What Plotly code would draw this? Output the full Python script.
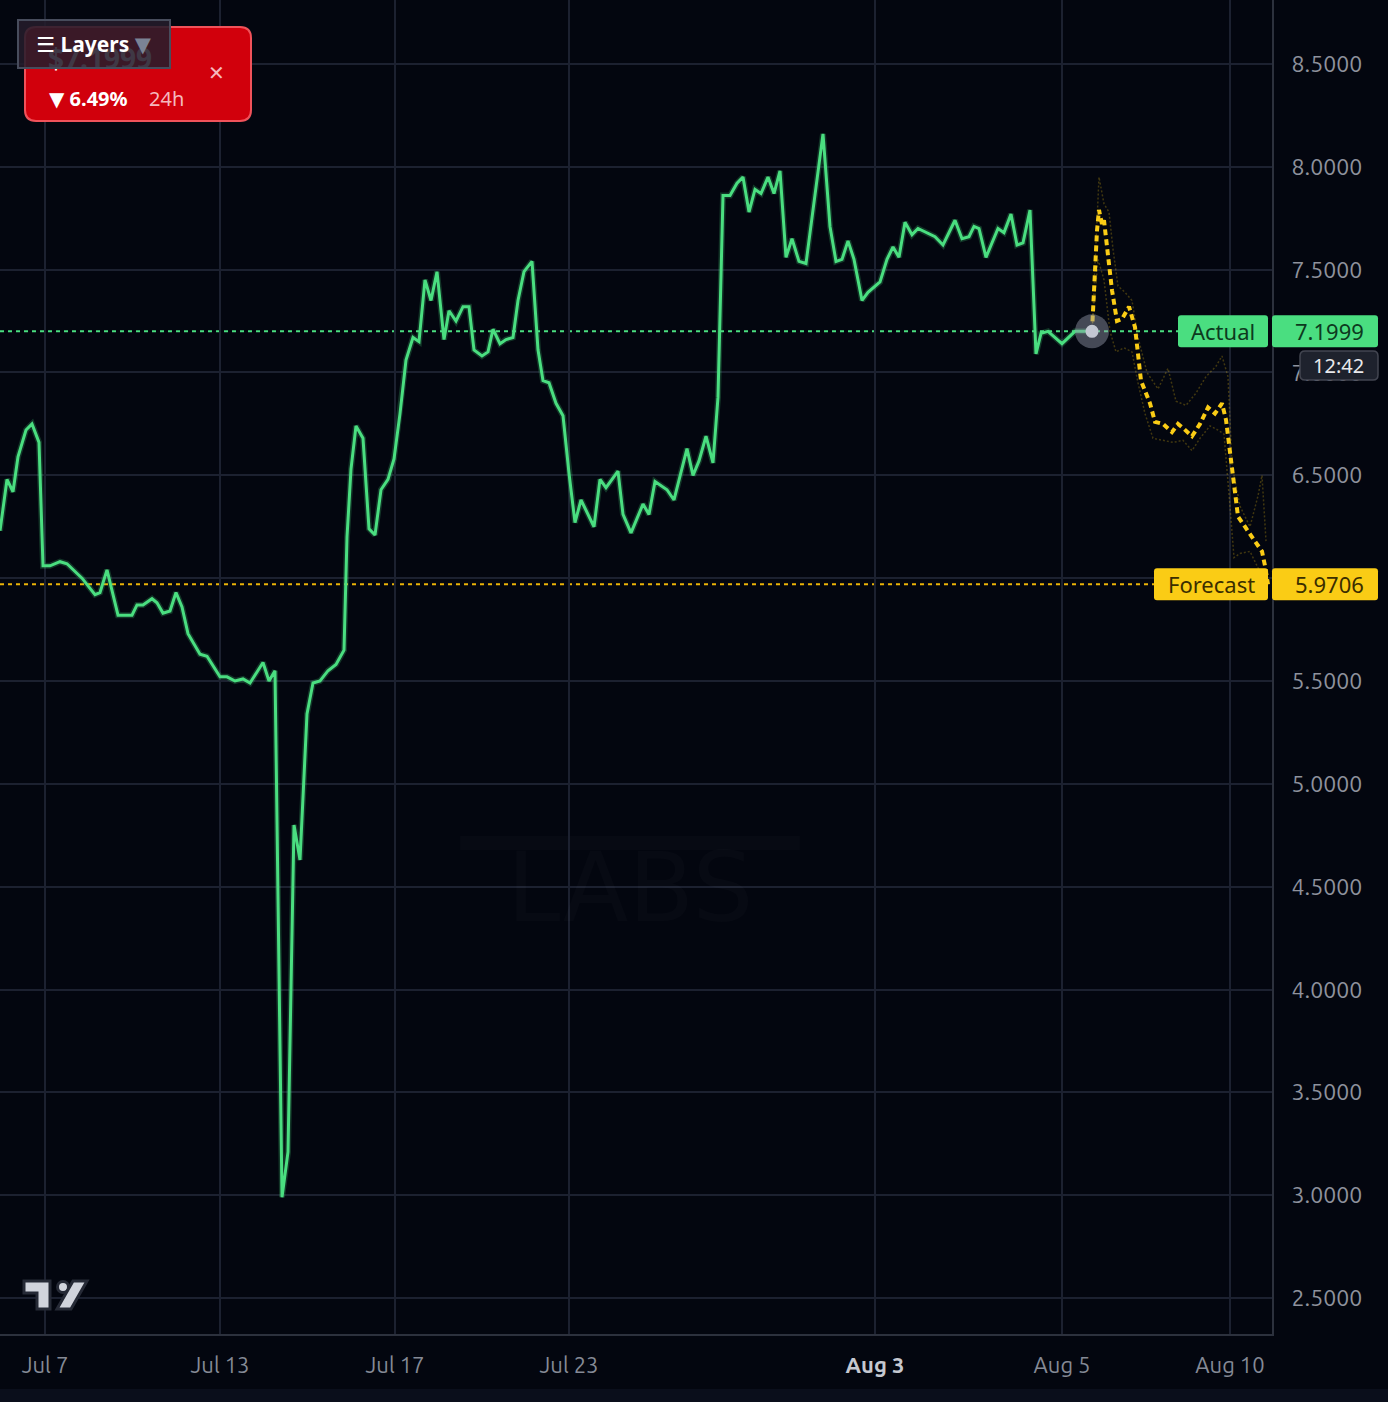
import plotly.graph_objects as go

# ---------------- data ----------------
t_actual = [0, 7, 13, 18, 26, 32, 39, 43, 50, 60, 67, 75, 82, 95, 100, 107, 118, 132, 137, 143,
            152, 157, 163, 170, 176, 182, 188, 200, 207, 220, 227, 235, 243, 250, 263, 269, 275,
            282, 288, 294, 300, 307, 313, 320, 328, 336, 344, 347, 351, 356, 363, 369, 375, 381,
            388, 394, 400, 406, 413, 419, 425, 431, 437, 444, 449, 456, 463, 469, 474, 482, 488,
            493, 500, 506, 513, 518, 524, 532, 538, 543, 549, 556, 563, 569, 575, 581, 594, 600,
            606, 618, 623, 631, 643, 649, 655, 667, 674, 687, 693, 699, 706, 713, 718, 723, 730,
            737, 743, 749, 755, 761, 768, 774, 780, 786, 792, 799, 806, 823, 830, 836, 842, 848,
            854, 862, 868, 880, 887, 893, 899, 905, 912, 918, 935, 943, 955, 962, 969, 974, 979,
            986, 998, 1004, 1011, 1017, 1023, 1030, 1036, 1041, 1048, 1062, 1075, 1092]
v_actual = [6.23, 6.48, 6.42, 6.59, 6.72, 6.75, 6.66, 6.06, 6.06, 6.08, 6.07, 6.03, 6.00, 5.92, 5.93,
            6.04, 5.82, 5.82, 5.87, 5.87, 5.90, 5.88, 5.83, 5.84, 5.93, 5.86, 5.73, 5.63, 5.62, 5.52,
            5.52, 5.50, 5.51, 5.49, 5.59, 5.50, 5.55, 2.99, 3.21, 4.80, 4.63, 5.34, 5.49, 5.50, 5.55,
            5.58, 5.65, 6.20, 6.53, 6.74, 6.68, 6.24, 6.21, 6.43, 6.48, 6.58, 6.80, 7.06, 7.17, 7.15,
            7.45, 7.35, 7.49, 7.16, 7.30, 7.25, 7.32, 7.32, 7.11, 7.08, 7.10, 7.21, 7.14, 7.16, 7.17,
            7.35, 7.49, 7.54, 7.11, 6.96, 6.95, 6.85, 6.79, 6.51, 6.27, 6.38, 6.25, 6.48, 6.44, 6.52,
            6.31, 6.22, 6.36, 6.31, 6.47, 6.43, 6.38, 6.63, 6.50, 6.57, 6.69, 6.56, 6.88, 7.86, 7.86,
            7.92, 7.95, 7.78, 7.89, 7.87, 7.95, 7.87, 7.98, 7.56, 7.65, 7.54, 7.53, 8.16, 7.71, 7.54,
            7.55, 7.64, 7.55, 7.35, 7.39, 7.44, 7.55, 7.61, 7.56, 7.73, 7.67, 7.70, 7.66, 7.62, 7.74,
            7.65, 7.66, 7.71, 7.70, 7.56, 7.70, 7.68, 7.77, 7.62, 7.63, 7.79, 7.09, 7.19, 7.20, 7.14,
            7.20, 7.2]

t_forecast = [1092, 1094, 1097, 1099, 1102, 1104, 1108, 1112, 1117, 1122, 1129, 1135, 1141, 1150,
              1155, 1163, 1172, 1178, 1183, 1192, 1200, 1208, 1215, 1222, 1226, 1230, 1235, 1238,
              1245, 1254, 1262, 1265, 1268]
v_forecast = [7.20, 7.40, 7.69, 7.79, 7.72, 7.74, 7.55, 7.40, 7.25, 7.26, 7.32, 7.22, 6.96, 6.85,
              6.76, 6.75, 6.71, 6.75, 6.73, 6.69, 6.75, 6.83, 6.80, 6.85, 6.77, 6.61, 6.42, 6.30,
              6.25, 6.19, 6.13, 6.06, 5.97]

t_upper = [1092, 1099, 1104, 1109, 1113, 1118, 1125, 1132, 1138, 1147, 1158, 1168, 1176, 1186,
           1196, 1206, 1216, 1222, 1228, 1232, 1240, 1250, 1258, 1262, 1266]
v_upper = [7.20, 7.95, 7.82, 7.78, 7.60, 7.42, 7.39, 7.35, 7.17, 7.00, 6.92, 7.02, 6.86, 6.84,
           6.90, 6.98, 7.03, 7.08, 6.98, 6.55, 6.35, 6.25, 6.40, 6.50, 6.18]
t_lower = [1092, 1098, 1104, 1110, 1116, 1124, 1132, 1138, 1145, 1153, 1163, 1173, 1183, 1192,
           1200, 1210, 1218, 1224, 1230, 1234, 1240, 1250, 1258, 1265]
v_lower = [7.20, 7.55, 7.45, 7.20, 7.10, 7.12, 7.10, 6.95, 6.80, 6.68, 6.67, 6.66, 6.67, 6.62,
           6.68, 6.74, 6.72, 6.70, 6.35, 6.10, 6.12, 6.13, 6.05, 5.98]

x_tick_pos = [45, 220, 395, 569, 875, 1062, 1230]
x_tick_labels = ["Jul 7", "Jul 13", "Jul 17", "Jul 23", "Aug 3", "Aug 5", "Aug 10"]
bold_label = "Aug 3"
y_ticks = [2.5, 3.0, 3.5, 4.0, 4.5, 5.0, 5.5, 6.0, 6.5, 7.0, 7.5, 8.0, 8.5]
y_hidden = [6.0]   # label fully covered by the forecast price tag

actual_value = 7.1999
forecast_value = 5.9706
price_text = "$7.1999"
change_text = "▼ 6.49%"
period_text = "24h"
clock_text = "12:42"

# ---------------- layout geometry ----------------
W, H = 1388, 1402
PW, PH = 1272, 1334            # plot area in pixels
YMIN, YMAX = 2.325, 8.811
XMIN, XMAX = 0, 1272
PPU = PH / (YMAX - YMIN)       # pixels per price unit

BG = "#03060f"
GRID = "#1c2130"
AXIS = "#2c313d"
GREEN = "#4ade80"
YELLOW = "#facc15"
FONT = "Noto Sans, DejaVu Sans, sans-serif"
AXFONT = "Ubuntu, Noto Sans, DejaVu Sans, sans-serif"


def px(x):
    return x / PW


def py(y):
    return 1 - y / PH


def vy(v):
    return (v - YMIN) / (YMAX - YMIN)


def poly(points):
    return "M " + " L ".join(f"{px(a):.5f},{py(b):.5f}" for a, b in points) + " Z"


def rrect(x0, y0, x1, y1, r):
    p = lambda a, b: f"{px(a):.5f},{py(b):.5f}"
    return (f"M {p(x0 + r, y0)} L {p(x1 - r, y0)} Q {p(x1, y0)} {p(x1, y0 + r)} "
            f"L {p(x1, y1 - r)} Q {p(x1, y1)} {p(x1 - r, y1)} L {p(x0 + r, y1)} "
            f"Q {p(x0, y1)} {p(x0, y1 - r)} L {p(x0, y0 + r)} Q {p(x0, y0)} {p(x0 + r, y0)} Z")


fig = go.Figure()

# confidence bands (faint)
fig.add_trace(go.Scatter(x=t_upper, y=v_upper, mode="lines",
                         line=dict(color="rgba(250,204,21,0.25)", width=1.5, dash="2px,2px"),
                         hoverinfo="skip", showlegend=False))
fig.add_trace(go.Scatter(x=t_lower, y=v_lower, mode="lines",
                         line=dict(color="rgba(250,204,21,0.25)", width=1.5, dash="2px,2px"),
                         hoverinfo="skip", showlegend=False))

# actual series glow + line
fig.add_trace(go.Scatter(x=t_actual, y=v_actual, mode="lines",
                         line=dict(color="rgba(74,222,128,0.22)", width=6),
                         hoverinfo="skip", showlegend=False))
fig.add_trace(go.Scatter(x=t_actual, y=v_actual, mode="lines",
                         line=dict(color=GREEN, width=3), name="Actual", showlegend=False))

# forecast series
fig.add_trace(go.Scatter(x=t_forecast, y=v_forecast, mode="lines",
                         line=dict(color=YELLOW, width=4, dash="6px,4px"),
                         name="Forecast", showlegend=False))

# current point marker
fig.add_trace(go.Scatter(x=[t_actual[-1]], y=[v_actual[-1]], mode="markers",
                         marker=dict(size=34, color="rgba(150,156,172,0.45)", line=dict(width=0)),
                         hoverinfo="skip", showlegend=False))
fig.add_trace(go.Scatter(x=[t_actual[-1]], y=[v_actual[-1]], mode="markers",
                         marker=dict(size=13, color="#c3c7d2", line=dict(width=0)),
                         hoverinfo="skip", showlegend=False))

shapes = []
# reference dotted lines
shapes.append(dict(type="line", xref="paper", yref="y", x0=0, x1=px(1178),
                   y0=actual_value, y1=actual_value, layer="below",
                   line=dict(color=GREEN, width=2, dash="4px,4px")))
shapes.append(dict(type="line", xref="paper", yref="y", x0=0, x1=px(1154),
                   y0=forecast_value, y1=forecast_value, layer="below",
                   line=dict(color="#eab308", width=2, dash="4px,4px")))

# watermark bar
shapes.append(dict(type="path", xref="paper", yref="paper", layer="below",
                   path=poly([(460, 836), (800, 836), (800, 850), (460, 850)]),
                   fillcolor="rgba(255,255,255,0.018)", line=dict(width=0)))

# label boxes
ha = 16 / PPU
for (x0, x1, val, col) in [(1178, 1268, actual_value, GREEN), (1272, 1378, actual_value, GREEN),
                           (1154, 1268, forecast_value, YELLOW), (1272, 1378, forecast_value, YELLOW)]:
    shapes.append(dict(type="path", xref="paper", yref="paper", layer="above",
                       path=rrect(x0, PH * (1 - vy(val + ha)), x1, PH * (1 - vy(val - ha)), 3),
                       fillcolor=col, line=dict(width=0)))

# clock box
shapes.append(dict(type="path", xref="paper", yref="paper", layer="above",
                   path=rrect(1300, 351, 1378, 380, 5),
                   fillcolor="#1e222d", line=dict(color="#434651", width=1.5)))

# red price card
shapes.append(dict(type="path", xref="paper", yref="paper", layer="above",
                   path=rrect(25, 27, 251, 121, 11),
                   fillcolor="#d1000c", line=dict(color="#f0525a", width=2)))

# TradingView-like logo
shapes.append(dict(type="path", xref="paper", yref="paper", layer="above",
                   path=poly([(24, 1281), (50, 1281), (50, 1309), (37, 1309), (37, 1293), (24, 1293)]),
                   fillcolor="#d1d4dc", line=dict(color="#262a36", width=3)))
shapes.append(dict(type="circle", xref="paper", yref="paper", layer="above",
                   x0=px(57.5), x1=px(68.5), y0=py(1292.5), y1=py(1281.5),
                   fillcolor="#d1d4dc", line=dict(color="#262a36", width=3)))
shapes.append(dict(type="path", xref="paper", yref="paper", layer="above",
                   path=poly([(73, 1281), (87, 1281), (71, 1309), (57, 1309)]),
                   fillcolor="#d1d4dc", line=dict(color="#262a36", width=3)))

# bottom UI strip
shapes.append(dict(type="rect", xref="paper", yref="paper", layer="above",
                   x0=0, x1=px(1388), y0=py(1402), y1=py(1389),
                   fillcolor="#0a0e1b", line=dict(width=0)))


def note(x, y, text, size, color, xanchor="center", family=FONT, **kw):
    d = dict(xref="paper", yref="paper", x=px(x), y=py(y), text=text, showarrow=False,
             xanchor=xanchor, yanchor="middle",
             font=dict(family=family, size=size, color=color))
    d.update(kw)
    return d


ann = []
# watermark text
ann.append(note(630, 888, "LABS", 96, "rgba(255,255,255,0.02)", family="DejaVu Sans"))

# label texts
ya = PH * (1 - vy(actual_value))
yf = PH * (1 - vy(forecast_value))
ann.append(note(1223, ya, "Actual", 22, "#0d3a1e"))
ann.append(note(1366, ya, f"{actual_value:.4f}", 22, "#0d3a1e", xanchor="right"))
ann.append(note(1211, yf, "Forecast", 22, "#3a2e00"))
ann.append(note(1366, yf, f"{forecast_value:.4f}", 22, "#3a2e00", xanchor="right"))
ann.append(note(1339, 365.5, clock_text, 20, "#e8e9ec"))

# red card texts
ann.append(note(46, 58, f"<b>{price_text}</b>", 28, "#ffffff", xanchor="left"))
ann.append(note(47, 99, f"<b>{change_text}</b>", 20, "#ffffff", xanchor="left"))
ann.append(note(147, 99, period_text, 20, "#f5b8bd", xanchor="left"))
ann.append(note(216, 73, "✕", 20, "#f6b8bd", family="DejaVu Sans"))

# Layers dropdown (drawn over the price text)
ann.append(dict(xref="paper", yref="paper", x=px(17), y=py(19), xanchor="left", yanchor="top",
                width=150, height=46, borderpad=0, borderwidth=2, bordercolor="#474c5c",
                bgcolor="rgba(36,29,43,0.88)", showarrow=False, align="center",
                text="<b>☰ Layers</b> <span style='color:#7b8395'>▼</span>",
                font=dict(family=FONT, size=21, color="#ffffff")))

ticktext = [f"<span style='color:#c5c8d0'><b>{s}</b></span>" if s == bold_label else s
            for s in x_tick_labels]
y_ticktext = ["" if v in y_hidden else f"{v:.4f}" for v in y_ticks]

fig.update_layout(
    width=W, height=H,
    margin=dict(l=0, r=W - PW, t=0, b=H - PH),
    paper_bgcolor=BG, plot_bgcolor=BG,
    shapes=shapes, annotations=ann,
    showlegend=False,
    xaxis=dict(range=[XMIN, XMAX], tickvals=x_tick_pos, ticktext=ticktext,
               showgrid=True, gridcolor=GRID, gridwidth=2, zeroline=False,
               showline=True, linecolor=AXIS, linewidth=2, ticks="",
               ticklabelstandoff=11,
               tickfont=dict(family=AXFONT, size=22, color="#858a96")),
    yaxis=dict(range=[YMIN, YMAX], side="right", tickvals=y_ticks,
               ticktext=y_ticktext,
               showgrid=True, gridcolor=GRID, gridwidth=2, zeroline=False,
               showline=True, linecolor=AXIS, linewidth=2, ticks="",
               ticklabelstandoff=13,
               tickfont=dict(family=AXFONT, size=23, color="#8e929d")),
)

fig.write_html("out.html", config={"displayModeBar": False},
               post_script="document.body.style.margin='0';document.body.style.background='#03060f';")
